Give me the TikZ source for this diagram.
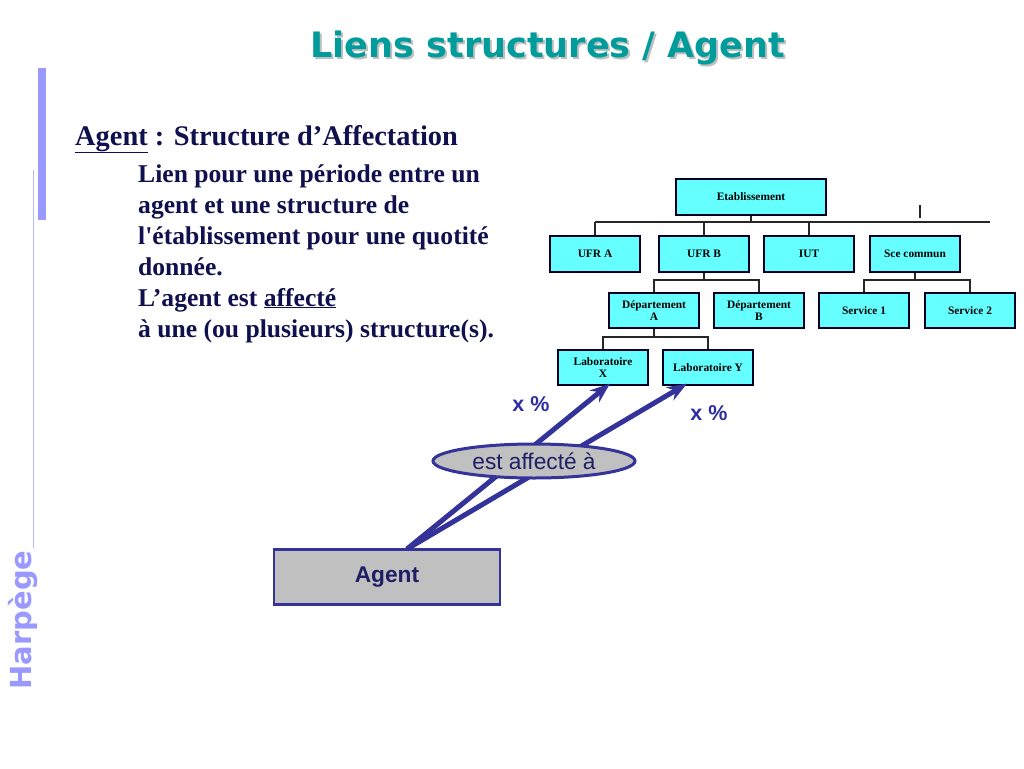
\documentclass[tikz,border=0pt]{standalone}
\usepackage{fontspec}
\setmainfont{Liberation Serif}
\newfontfamily\serifraw{Liberation Serif}
\newfontfamily\arialf{Liberation Sans}
\newfontfamily\titlef{DejaVu Sans}
\usetikzlibrary{arrows.meta,shapes.geometric}
\definecolor{cyanbox}{HTML}{66FFFF}
\definecolor{teal2}{HTML}{009C9C}
\definecolor{arrowblue}{HTML}{333399}
\definecolor{navy}{HTML}{1F1F66}
\definecolor{textnavy}{HTML}{10104F}
\definecolor{lav}{HTML}{9999FF}
\definecolor{greyfill}{HTML}{C0C0C0}
\begin{document}
\begin{tikzpicture}[x=1pt,y=-1pt,
  orgbox/.style={draw=black!85!blue,line width=1.3pt,fill=cyanbox,minimum width=90pt,minimum height=36pt,inner sep=1pt,align=center,font=\bfseries\fontsize{11.4}{12.5}\selectfont},
  orgline/.style={draw=black!85,line width=1.4pt},
  bodytext/.style={anchor=base west,inner sep=0pt,text=textnavy,font=\bfseries\fontsize{25.6}{31}\selectfont},
  affarrow/.style={draw=arrowblue,line width=5pt,-{Stealth[length=20pt,width=15pt]}},
  pct/.style={text=arrowblue!90!blue,font=\arialf\bfseries\fontsize{21.5}{24}\selectfont}
]
\useasboundingbox (0,0) rectangle (1024,768);
\fill[white] (0,0) rectangle (1024,768);

% left decoration
\fill[lav] (38,68) rectangle (46,220);
\draw[lav!70,line width=1pt] (33,170) -- (33,548);
\node[rotate=90,text=lav,font=\titlef\bfseries\fontsize{29}{32}\selectfont,inner sep=0pt] (harp) at (23,620) {Harpège};

% title
\node[text=black!25,font=\titlef\bfseries\fontsize{35}{40}\selectfont] (titleshadow) at (550,50) {Liens structures / Agent};
\node[text=teal2,font=\titlef\bfseries\fontsize{35}{40}\selectfont] (title) at (548,48) {Liens structures / Agent};

% body text
\node[bodytext,font=\bfseries\fontsize{28.4}{31}\selectfont] (head) at (75,145) {\underline{Agent} : Structure d’Affectation};
\node[bodytext] (l1) at (138,182) {Lien pour une période entre un};
\node[bodytext] (l2) at (138,213) {agent et une structure de};
\node[bodytext] (l3) at (138,244) {l{\serifraw\bfseries '}établissement pour une quotité};
\node[bodytext] (l4) at (138,275) {donnée.};
\node[bodytext] (l5) at (138,306) {L’agent est \underline{affecté}};
\node[bodytext] (l6) at (138,337) {à une (ou plusieurs) structure(s).};

% org chart
\node[orgbox,minimum width=150pt] (etab) at (751,197) {Etablissement};
\node[orgbox] (ufra) at (595,254) {UFR A};
\node[orgbox] (ufrb) at (704,254) {UFR B};
\node[orgbox] (iut) at (809,254) {IUT};
\node[orgbox] (sce) at (915,254) {Sce commun};
\node[orgbox,minimum height=35pt] (depa) at (654,310.5) {Département\\A};
\node[orgbox,minimum height=35pt] (depb) at (759,310.5) {Département\\B};
\node[orgbox,minimum height=35pt] (serv1) at (864,310.5) {Service 1};
\node[orgbox,minimum height=35pt] (serv2) at (970,310.5) {Service 2};
\node[orgbox,minimum height=35pt] (labx) at (603,367.5) {Laboratoire\\X};
\node[orgbox,minimum height=35pt] (laby) at (708,367.5) {Laboratoire Y};

\coordinate (bus1l) at (595,222);
\coordinate (bus1r) at (990,222);
\draw[orgline] (bus1l) -- (bus1r);
\draw[orgline] (etab.south) -- (etab.south |- bus1l);
\draw[orgline] (bus1l) -- (ufra.north);
\draw[orgline] (ufrb.north |- bus1l) -- (ufrb.north);
\draw[orgline] (iut.north |- bus1l) -- (iut.north);
\coordinate (tickt) at (920,205);
\coordinate (tickb) at (920,218);
\draw[orgline] (tickt) -- (tickb);

\coordinate (bus2) at (704,280);
\draw[orgline] (ufrb.south) -- (bus2);
\draw[orgline] (depa.north) |- (bus2) -| (depb.north);
\coordinate (bus3) at (915,280);
\draw[orgline] (sce.south) -- (bus3);
\draw[orgline] (serv1.north) |- (bus3) -| (serv2.north);
\coordinate (bus4) at (654,337);
\draw[orgline] (depa.south) -- (bus4);
\draw[orgline] (labx.north) |- (bus4) -| (laby.north);

% agent and arrows
\node[draw=arrowblue,line width=2.5pt,fill=greyfill,minimum width=226pt,minimum height=55pt,text=navy,font=\arialf\bfseries\fontsize{22.7}{25}\selectfont] (agent) at (387,577) {Agent};
\coordinate (src) at (407,549);
\draw[affarrow] (src) -- ([xshift=7pt,yshift=2pt]labx.south);
\draw[affarrow] (src) -- ([xshift=-21pt,yshift=2pt]laby.south);
\node[draw=arrowblue,line width=3pt,fill=greyfill,ellipse,minimum width=202pt,minimum height=34pt,inner sep=0pt,text=navy,font=\arialf\fontsize{22.7}{25}\selectfont] (aff) at (534,461) {est affecté à};
\node[pct] (px1) at (531,404) {x \%};
\node[pct] (px2) at (709,413) {x \%};
\end{tikzpicture}
\end{document}
